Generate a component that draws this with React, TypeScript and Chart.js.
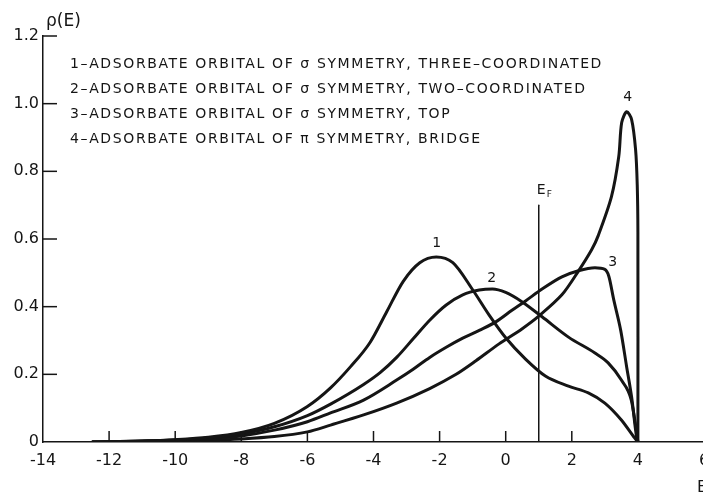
import React, { useEffect, useRef } from "react";
import { Chart, registerables } from "chart.js";

Chart.register(...registerables);

// ---- data ----
const CURVE1_E = [-12.5, -11, -10, -9, -8, -7, -6, -5.3, -4.7, -4.1, -3.6, -3.1, -2.6, -2.1, -1.6, -1.0, -0.5, 0.0, 0.6, 1.2, 1.9, 2.5, 3.0, 3.5, 3.9, 4.0];
const CURVE1_RHO = [0, 0.003, 0.007, 0.014, 0.028, 0.055, 0.105, 0.16, 0.222, 0.295, 0.385, 0.475, 0.53, 0.547, 0.53, 0.45, 0.375, 0.308, 0.245, 0.195, 0.165, 0.145, 0.115, 0.065, 0.012, 0];

const CURVE2_E = [-12.5, -11, -10, -9, -8, -7, -6, -5.3, -4.3, -3.8, -3.3, -2.8, -2.3, -1.8, -1.3, -0.8, -0.4, 0.0, 0.5, 1.1, 1.9, 2.7, 3.1, 3.5, 3.8, 3.93, 4.0];
const CURVE2_RHO = [0, 0.003, 0.006, 0.012, 0.024, 0.045, 0.078, 0.112, 0.17, 0.205, 0.25, 0.305, 0.36, 0.405, 0.435, 0.449, 0.452, 0.442, 0.414, 0.37, 0.31, 0.263, 0.234, 0.183, 0.124, 0.05, 0];

const CURVE3_E = [-12.5, -11, -10, -9, -8, -7, -6, -5.3, -4.3, -3.3, -2.8, -2.3, -1.8, -1.3, -0.8, -0.3, 0.2, 0.6, 1.1, 1.7, 2.2, 2.7, 3.0, 3.12, 3.27, 3.48, 3.66, 3.81, 3.96, 4.0];
const CURVE3_RHO = [0, 0.002, 0.005, 0.009, 0.018, 0.035, 0.06, 0.086, 0.124, 0.183, 0.215, 0.25, 0.28, 0.307, 0.33, 0.355, 0.39, 0.417, 0.452, 0.488, 0.506, 0.515, 0.51, 0.49, 0.42, 0.33, 0.222, 0.133, 0.015, 0];

const CURVE4_E = [-12.5, -11, -10, -9, -8, -7, -6, -5.3, -4.3, -3.3, -2.3, -1.5, -0.9, -0.2, 0.5, 1.0, 1.7, 2.2, 2.6, 2.8, 3.2, 3.42, 3.51, 3.66, 3.81, 3.93, 3.98, 4.0, 4.0];
const CURVE4_RHO = [0, 0.001, 0.003, 0.005, 0.009, 0.016, 0.03, 0.05, 0.08, 0.115, 0.158, 0.2, 0.24, 0.29, 0.335, 0.372, 0.435, 0.505, 0.568, 0.61, 0.725, 0.843, 0.944, 0.976, 0.953, 0.864, 0.76, 0.62, 0];

const FERMI_E = 1;
const FERMI_TOP = 0.7;

const X_MIN = -14;
const X_MAX = 6;
const X_STEP = 2;
const Y_MIN = 0;
const Y_MAX = 1.2;
const Y_STEP = 0.2;

const LEGEND_LINES = [
  "1–ADSORBATE ORBITAL OF σ SYMMETRY, THREE–COORDINATED",
  "2–ADSORBATE ORBITAL OF σ SYMMETRY, TWO–COORDINATED",
  "3–ADSORBATE ORBITAL OF σ SYMMETRY, TOP",
  "4–ADSORBATE ORBITAL OF π SYMMETRY, BRIDGE",
];

const CURVE_LABELS = ["1", "2", "3", "4"];
const CURVE_LABEL_E = [-2.09, -0.42, 3.24, 3.69];
const CURVE_LABEL_RHO = [0.588, 0.485, 0.532, 1.02];

const Y_TITLE = "ρ(E)";
const X_TITLE = "E";
const FERMI_LABEL = "E";
const FERMI_SUB = "F";

const INK = "#151515";
const FONT = "'DejaVu Sans', 'Liberation Sans', sans-serif";

function pts(xs: number[], ys: number[]) {
  return xs.map((x, i) => ({ x, y: ys[i] }));
}

const decorPlugin = {
  id: "decor",
  afterDraw(chart: any) {
    const ctx = chart.ctx;
    const xs = chart.scales.x;
    const ys = chart.scales.y;
    const area = chart.chartArea;
    ctx.save();
    ctx.strokeStyle = INK;
    ctx.fillStyle = INK;
    ctx.lineWidth = 1.5;
    // inward ticks on y
    ys.ticks.forEach((t: any) => {
      if (t.value === Y_MIN) return;
      const py = ys.getPixelForValue(t.value);
      ctx.beginPath();
      ctx.moveTo(area.left, py);
      ctx.lineTo(area.left + 14, py);
      ctx.stroke();
    });
    // inward ticks on x
    xs.ticks.forEach((t: any) => {
      if (t.value === X_MIN) return;
      const px = xs.getPixelForValue(t.value);
      ctx.beginPath();
      ctx.moveTo(px, area.bottom);
      ctx.lineTo(px, area.bottom - 11);
      ctx.stroke();
    });

    // legend text
    ctx.font = `14px ${FONT}`;
    ctx.textBaseline = "middle";
    ctx.textAlign = "left";
    (ctx as any).letterSpacing = "0px";
    const w0 = ctx.measureText(LEGEND_LINES[0]).width;
    const n0 = Array.from(LEGEND_LINES[0]).length;
    const ls = Math.max(0, (533 - w0) / n0);
    (ctx as any).letterSpacing = `${ls}px`;
    LEGEND_LINES.forEach((line, i) => {
      ctx.fillText(line, 70, 64 + i * 25.2);
    });
    (ctx as any).letterSpacing = "0px";

    // curve labels
    ctx.font = `14px ${FONT}`;
    ctx.textAlign = "center";
    CURVE_LABELS.forEach((lab, i) => {
      ctx.fillText(lab, xs.getPixelForValue(CURVE_LABEL_E[i]), ys.getPixelForValue(CURVE_LABEL_RHO[i]));
    });

    // Fermi label
    const fx = xs.getPixelForValue(FERMI_E);
    const fy = ys.getPixelForValue(FERMI_TOP);
    ctx.textAlign = "left";
    ctx.font = `14px ${FONT}`;
    ctx.fillText(FERMI_LABEL, fx - 2, fy - 15);
    ctx.font = `9px ${FONT}`;
    ctx.fillText(FERMI_SUB, fx + 8, fy - 11);

    // axis titles
    ctx.font = `17px ${FONT}`;
    ctx.fillText(Y_TITLE, 46, 22);
    ctx.font = `16px ${FONT}`;
    ctx.fillText(X_TITLE, 697, 488);
    ctx.restore();
  },
};

export default function App() {
  const ref = useRef<HTMLCanvasElement | null>(null);

  useEffect(() => {
    if (!ref.current) return;
    const lineStyle = {
      showLine: true,
      borderColor: INK,
      borderWidth: 3,
      pointRadius: 0,
      cubicInterpolationMode: "monotone" as const,
      fill: false,
      borderJoinStyle: "round" as const,
      borderCapStyle: "round" as const,
    };
    const chart = new Chart(ref.current, {
      type: "scatter",
      data: {
        datasets: [
          { ...lineStyle, label: "1", data: pts(CURVE1_E, CURVE1_RHO) },
          { ...lineStyle, label: "2", data: pts(CURVE2_E, CURVE2_RHO) },
          { ...lineStyle, label: "3", data: pts(CURVE3_E, CURVE3_RHO) },
          {
            ...lineStyle,
            label: "4",
            cubicInterpolationMode: "default" as const,
            tension: 0.3,
            data: pts(CURVE4_E, CURVE4_RHO),
          },
          {
            ...lineStyle,
            label: "EF",
            borderWidth: 1.5,
            cubicInterpolationMode: "default" as const,
            tension: 0,
            data: [
              { x: FERMI_E, y: Y_MIN },
              { x: FERMI_E, y: FERMI_TOP },
            ],
          },
        ],
      },
      options: {
        responsive: false,
        animation: false,
        devicePixelRatio: 1,
        layout: { padding: { left: 0, right: 16, top: 36, bottom: 0 } },
        plugins: { legend: { display: false }, tooltip: { enabled: false } },
        scales: {
          x: {
            type: "linear",
            min: X_MIN,
            max: X_MAX,
            ticks: {
              stepSize: X_STEP,
              padding: 9,
              autoSkip: false,
              maxRotation: 0,
              color: INK,
              font: { family: FONT, size: 16 },
              callback: (v: any) => String(v),
            },
            grid: { display: false, drawTicks: false },
            border: { display: true, color: INK, width: 1.5 },
            afterFit: (s: any) => {
              s.height = 52;
            },
          },
          y: {
            type: "linear",
            min: Y_MIN,
            max: Y_MAX,
            ticks: {
              stepSize: Y_STEP,
              padding: 4,
              color: INK,
              font: { family: FONT, size: 16 },
              callback: (v: any) => (Number(v) === 0 ? "0" : Number(v).toFixed(1)),
            },
            grid: { display: false, drawTicks: false },
            border: { display: true, color: INK, width: 1.5 },
            afterFit: (s: any) => {
              s.width = 43;
            },
          },
        },
      },
      plugins: [decorPlugin],
    } as any);
    return () => chart.destroy();
  }, []);

  return (
    <div
      style={{
        position: "fixed",
        left: 0,
        top: 0,
        width: 703,
        height: 494,
        overflow: "hidden",
        background: "#fff",
      }}
    >
      <canvas ref={ref} width={720} height={494} style={{ display: "block" }} />
    </div>
  );
}
